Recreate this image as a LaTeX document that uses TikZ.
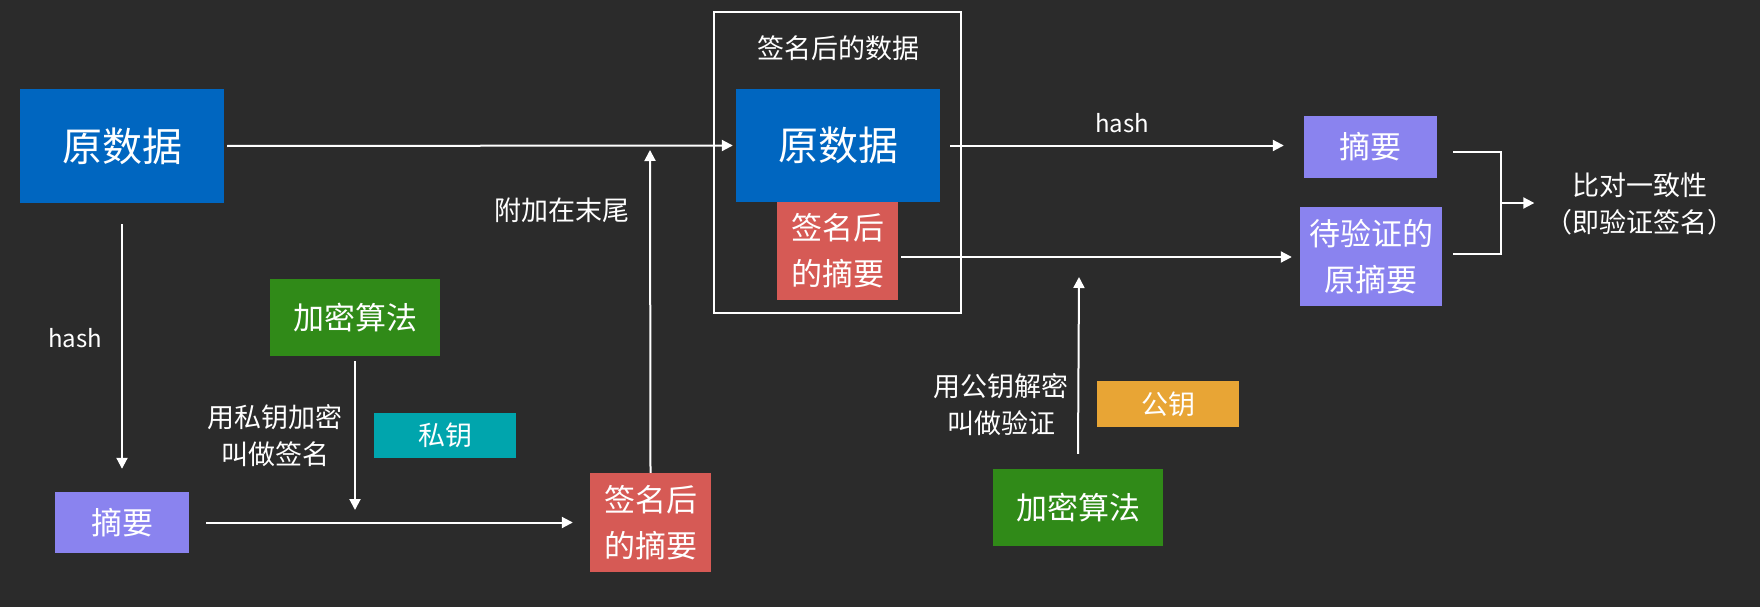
\documentclass[tikz,border=0pt]{standalone}
\usepackage{fontspec}
\setmainfont{Noto Sans CJK SC}
\usetikzlibrary{arrows.meta}
\definecolor{bgc}{HTML}{2B2B2B}
\definecolor{cblue}{HTML}{0066C0}
\definecolor{cgreen}{HTML}{308A18}
\definecolor{cteal}{HTML}{00A5AD}
\definecolor{cred}{HTML}{D65A55}
\definecolor{cpurple}{HTML}{8A83EF}
\definecolor{corange}{HTML}{E8A535}
\begin{document}
\begin{tikzpicture}[x=1pt,y=-1pt,
  box/.style={rectangle,inner sep=0pt,text=white,align=center},
  lab/.style={text=white,align=center,inner sep=0pt},
  arr/.style={draw=white,line width=2pt,-{Triangle[length=11pt,width=11pt]}},
  ln/.style={draw=white,line width=2pt},
  fbig/.style={font=\fontsize{40}{48}\selectfont},
  fmid/.style={font=\fontsize{31}{46}\selectfont},
  fsm/.style={font=\fontsize{27}{37}\selectfont},
  fhash/.style={font=\fontsize{24}{30}\selectfont}
]
\fill[bgc] (0,0) rectangle (1760,607);
\useasboundingbox (0,0) rectangle (1760,607);

% left part
\node[box,fbig,fill=cblue,minimum width=204pt,minimum height=114pt] (src) at (122,146) {原数据};
\node[box,fmid,fill=cpurple,minimum width=134pt,minimum height=61pt] (dig) at (122,522.5) {摘要};
\node[lab,fhash] (hashA) at (75,338) {hash};
\node[box,fmid,fill=cgreen,minimum width=170pt,minimum height=77pt] (encA) at (355,317.5) {加密算法};
\node[box,fsm,fill=cteal,minimum width=142pt,minimum height=45pt] (priv) at (445,435.5) {私钥};
\node[lab,fsm] (signtxt) at (275,436) {用私钥加密\\叫做签名};
\node[box,fmid,fill=cred,minimum width=121pt,minimum height=99pt] (sigB) at (650.5,522.5) {签名后\\的摘要};
\node[lab,fsm] (attach) at (562,210) {附加在末尾};

% signed data frame
\node[draw=white,line width=2pt,inner sep=0pt,minimum width=247pt,minimum height=301pt] (frame) at (837.5,162.5) {};
\node[lab,fsm] (title) at (838,48) {签名后的数据};
\node[box,fbig,fill=cblue,minimum width=204pt,minimum height=113pt] (src2) at (838,145.5) {原数据};
\node[box,fmid,fill=cred,minimum width=121pt,minimum height=98pt] (sig2) at (837.5,251) {签名后\\的摘要};

% right part
\node[lab,fhash] (hashB) at (1122,123) {hash};
\node[box,fmid,fill=cpurple,minimum width=133pt,minimum height=62pt] (dig2) at (1370.5,147) {摘要};
\node[box,fmid,fill=cpurple,minimum width=142pt,minimum height=99pt] (verif) at (1371,256.5) {待验证的\\原摘要};
\node[lab,fsm] (compare) at (1640,203.5) {比对一致性\\（即验证签名）};
\node[box,fsm,fill=corange,minimum width=142pt,minimum height=46pt] (pub) at (1168,404) {公钥};
\node[box,fmid,fill=cgreen,minimum width=170pt,minimum height=77pt] (enc2) at (1078,507.5) {加密算法};
\node[lab,fsm] (verifytxt) at (1001,405) {用公钥解密\\叫做验证};

% free ends
\coordinate (encAend) at (355,510);
\coordinate (attachend) at (650,150);
\coordinate (enc2end) at (1079,277);
\coordinate (br1) at (1501,152);
\coordinate (br2) at (1501,254);
\coordinate (brm) at (1501,203);

% connectors
\draw[arr] ([xshift=3pt]src.east) -- ([xshift=-3pt]src2.west);
\draw[arr] ([yshift=-21pt]src.south) -- ([yshift=23pt]dig.north);
\draw[arr] ([xshift=17pt]dig.east) -- ([xshift=-17pt]sigB.west);
\draw[arr] ([yshift=-5pt]encA.south) -- (encAend);
\draw[arr] (sigB.north) -- (attachend);
\draw[arr] ([xshift=10pt]src2.east) -- ([xshift=-20pt]dig2.west |- src2.east);
\draw[arr] ([xshift=3pt]sig2.east |- 0,257) -- ([xshift=-8pt]verif.west |- 0,257);
\draw[arr] ([yshift=15pt]enc2.north) -- (enc2end);
\draw[ln] ([xshift=16pt]dig2.east |- br1) -- (br1) -- (br2) -- ([xshift=16pt]dig2.east |- br2);
\draw[arr] (brm) -- ([xshift=-11pt]compare.west |- brm);
\end{tikzpicture}
\end{document}
